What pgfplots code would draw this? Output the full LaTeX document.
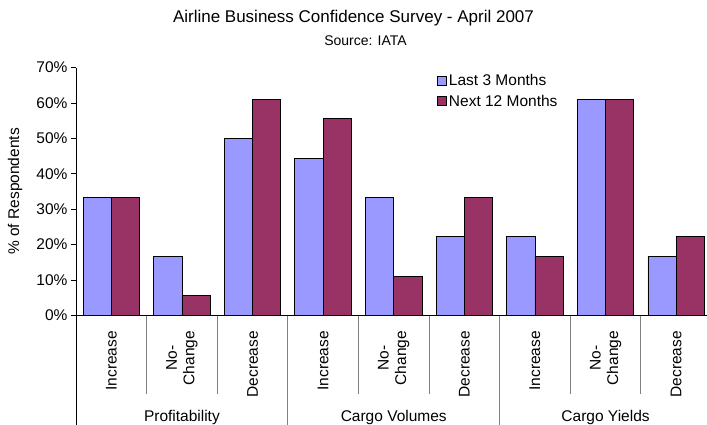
\documentclass[border=0pt]{standalone}
\usepackage{pgfplots}
\pgfplotsset{compat=1.18}
\usepackage{fontspec}
\setmainfont{Liberation Sans}
\definecolor{lastc}{HTML}{9999FF}
\definecolor{nextc}{HTML}{993366}
\definecolor{sepc}{HTML}{808080}
\begin{document}
\begin{tikzpicture}
\path[use as bounding box] (0,0) rectangle (707pt,424pt);
\node[font=\fontsize{17}{20}\selectfont] at (353.5pt,406pt) {Airline Business Confidence Survey - April 2007};
\node[font=\fontsize{14}{16}\selectfont] at (365.5pt,383.5pt) {Source: IATA};
\begin{axis}[
  at={(76pt,108.5pt)}, anchor=south west,
  scale only axis, width=635.5pt, height=248pt,
  xmin=-0.5, xmax=8.5, ymin=0, ymax=70,
  axis x line*=bottom, axis y line*=left,
  axis line style={-, line width=0.8pt},
  ybar=0pt, bar width=0.4,
  xtick={0,...,8},
  xticklabels={Increase,{No-\\Change},Decrease,Increase,{No-\\Change},Decrease,Increase,{No-\\Change},Decrease},
  xticklabel style={yshift=-7pt, rotate=90, anchor=east, align=center, font=\fontsize{15.5}{17.5}\selectfont},
  x tick style={draw=none},
  ytick={0,10,...,70},
  yticklabels={0\%,10\%,20\%,30\%,40\%,50\%,60\%,70\%},
  yticklabel style={font=\fontsize{15.5}{18}\selectfont},
  y tick style={black, line width=0.8pt},
  tick align=outside, major tick length=5pt,
  ylabel={\% of Respondents},
  ylabel style={at={(axis description cs:-0.096,0.5)}, anchor=center, font=\fontsize{15.5}{18}\selectfont},
  clip=false,
  legend style={draw=none, fill=none, at={(axis description cs:0.568,0.982)}, anchor=north west,
    font=\fontsize{15.5}{18}\selectfont, row sep=4pt, inner sep=0pt,
    /tikz/every even column/.append style={column sep=0pt}},
  legend image code/.code={\draw[#1, line width=0.8pt] (0pt,-4.5pt) rectangle (9pt,4.5pt);},
  legend cell align=left,
]
\addplot[fill=lastc, draw=black, line width=0.8pt] coordinates {(0,33.3) (1,16.7) (2,50.0) (3,44.4) (4,33.3) (5,22.2) (6,22.2) (7,61.1) (8,16.7)};
\addplot[fill=nextc, draw=black, line width=0.8pt] coordinates {(0,33.3) (1,5.6) (2,61.1) (3,55.6) (4,11.1) (5,33.3) (6,16.7) (7,61.1) (8,22.2)};
\legend{Last 3 Months, Next 12 Months}
\foreach \s in {0.5,1.5,3.5,4.5,6.5,7.5} {
  \edef\tmp{\noexpand\draw[sepc, line width=0.8pt] (axis cs:\s,0) -- ([yshift=-78.5pt]axis cs:\s,0);}\tmp
}
\foreach \s in {2.5,5.5,8.5} {
  \edef\tmp{\noexpand\draw[sepc, line width=0.8pt] (axis cs:\s,0) -- ([yshift=-110pt]axis cs:\s,0);}\tmp
}
\draw[black, line width=0.8pt] (axis cs:-0.5,0) -- ([yshift=-110pt]axis cs:-0.5,0);
\node[font=\fontsize{15.5}{18}\selectfont] at ([yshift=-102pt]axis cs:1,0) {Profitability};
\node[font=\fontsize{15.5}{18}\selectfont] at ([yshift=-102pt]axis cs:4,0) {Cargo Volumes};
\node[font=\fontsize{15.5}{18}\selectfont] at ([yshift=-102pt]axis cs:7,0) {Cargo Yields};
\end{axis}
\end{tikzpicture}
\end{document}
